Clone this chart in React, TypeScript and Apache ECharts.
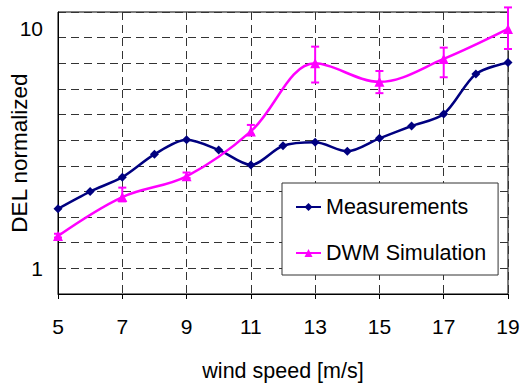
import React, { useEffect, useRef } from "react";
import * as echarts from "echarts";

// Wind speeds [m/s] and normalized damage equivalent loads
const windSpeeds = [5, 6, 7, 8, 9, 10, 11, 12, 13, 14, 15, 16, 17, 18, 19];
const measured = [1.78, 2.1, 2.41, 3.0, 3.45, 3.13, 2.71, 3.26, 3.37, 3.09, 3.5, 3.94, 4.42, 6.49, 7.24];

const simSpeeds = [5, 7, 9, 11, 13, 15, 17, 19];
const simulated = [1.37, 1.99, 2.43, 3.74, 7.19, 6.02, 7.5, 10.0];
const simLow = [1.35, 1.91, 2.39, 3.62, 5.98, 5.4, 6.29, 8.25];
const simHigh = [1.4, 2.18, 2.52, 3.98, 8.44, 6.68, 8.36, 12.3];

const yLabels = [1, 10];

const NAVY = "#000080";
const MAGENTA = "#FF00FF";
const FONT = "'Liberation Sans', Arial, sans-serif";

export default function App() {
  const ref = useRef<HTMLDivElement>(null);

  useEffect(() => {
    if (!ref.current) return;
    const chart = echarts.init(ref.current, null, { renderer: "svg" });

    const dash = { color: "#333", width: 1, type: [8, 5] as number[] };

    chart.setOption({
      animation: false,
      backgroundColor: "#fff",
      textStyle: { fontFamily: FONT, color: "#000" },
      grid: {
        left: 58,
        right: 18,
        top: 12,
        bottom: 89,
        containLabel: false,
        outerBoundsMode: "none",
        show: true,
        borderColor: "#000",
        borderWidth: 1,
        backgroundColor: "transparent",
      },
      legend: {
        data: ["Measurements", "DWM Simulation"],
        orient: "vertical",
        left: 282,
        top: 183,
        padding: [13, 12, 11, 13],
        itemGap: 24,
        itemWidth: 25,
        itemHeight: 10,
        backgroundColor: "#fff",
        borderColor: "#333",
        borderWidth: 1,
        borderRadius: 0,
        textStyle: { fontSize: 21.5, color: "#000", fontFamily: FONT },
      },
      xAxis: {
        type: "value",
        min: 5,
        max: 19,
        interval: 2,
        name: "wind speed [m/s]",
        nameLocation: "middle",
        nameGap: 66,
        nameMoveOverlap: false,
        nameTextStyle: { fontSize: 21.5, color: "#000", fontFamily: FONT },
        axisLine: { show: true, lineStyle: { color: "#000", width: 1 } },
        axisTick: { show: true, length: 5, lineStyle: { color: "#000" } },
        axisLabel: { fontSize: 21, color: "#000", margin: 22, fontFamily: FONT },
        splitLine: { show: true, lineStyle: dash },
      },
      yAxis: [
        {
          type: "log",
          logBase: 10,
          min: 0.785,
          max: 11.77,
          position: "left",
          name: "DEL normalized",
          nameLocation: "middle",
          nameGap: 27,
          nameMoveOverlap: false,
          nameTextStyle: { fontSize: 22.5, color: "#000", fontFamily: FONT },
          axisLine: { show: true, lineStyle: { color: "#000", width: 1 } },
          axisTick: { show: false },
          splitLine: { show: false },
          axisLabel: {
            fontSize: 21,
            color: "#000",
            margin: 15,
            fontFamily: FONT,
            showMinLabel: false,
            showMaxLabel: false,
            formatter: (v: number) => {
              const hit = yLabels.find((l) => Math.abs(v - l) < 1e-6 * l);
              return hit !== undefined ? String(hit) : "";
            },
          },
        },
        {
          // evenly spaced dashed guide lines across the plot
          type: "value",
          min: 0,
          max: 11,
          interval: 1,
          position: "left",
          axisLine: { show: false },
          axisTick: { show: false },
          axisLabel: { show: false },
          splitLine: { show: true, lineStyle: dash },
        },
      ],
      series: [
        {
          name: "Measurements",
          type: "line",
          yAxisIndex: 0,
          data: windSpeeds.map((s, i) => [s, measured[i]]),
          smooth: 0.3,
          symbol: "diamond",
          symbolSize: 9,
          lineStyle: { color: NAVY, width: 2.5 },
          itemStyle: { color: NAVY },
          z: 4,
        },
        {
          name: "DWM Simulation",
          type: "line",
          yAxisIndex: 0,
          data: simSpeeds.map((s, i) => [s, simulated[i]]),
          smooth: 0.35,
          symbol: "triangle",
          symbolSize: 10,
          lineStyle: { color: MAGENTA, width: 2.5 },
          itemStyle: { color: MAGENTA },
          z: 5,
        },
        {
          name: "range",
          type: "custom",
          yAxisIndex: 0,
          clip: false,
          z: 6,
          data: simSpeeds.map((s, i) => [s, simLow[i], simHigh[i]]),
          encode: { x: 0, y: [1, 2] },
          renderItem: (params: any, api: any) => {
            const x = api.value(0);
            const top = api.coord([x, api.value(2)]);
            const bot = api.coord([x, api.value(1)]);
            const cap = 4;
            const style = { stroke: MAGENTA, lineWidth: 2 };
            return {
              type: "group",
              children: [
                { type: "line", shape: { x1: top[0], y1: top[1], x2: bot[0], y2: bot[1] }, style },
                { type: "line", shape: { x1: top[0] - cap, y1: top[1], x2: top[0] + cap, y2: top[1] }, style },
                { type: "line", shape: { x1: bot[0] - cap, y1: bot[1], x2: bot[0] + cap, y2: bot[1] }, style },
              ],
            };
          },
        },
      ],
    });

    return () => chart.dispose();
  }, []);

  return (
    <div
      ref={ref}
      style={{ position: "fixed", left: 0, top: 0, width: 526, height: 383 }}
    />
  );
}
